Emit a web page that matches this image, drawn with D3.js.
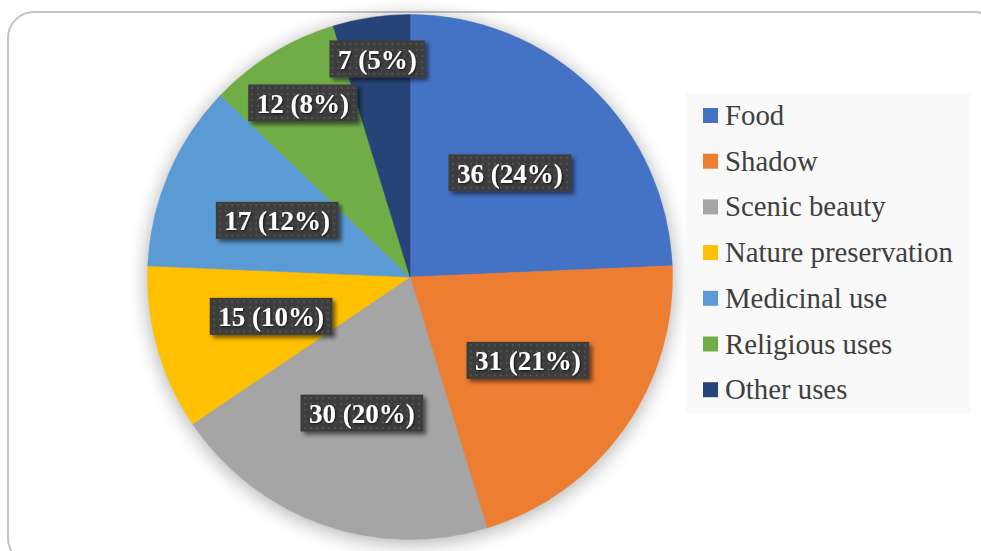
<!DOCTYPE html>
<html>
<head>
<meta charset="utf-8">
<script src="https://cdn.jsdelivr.net/npm/d3@7"></script>
<style>
html,body{margin:0;padding:0;background:#fff;}
svg{display:block;}
</style>
</head>
<body>
<svg id="chart" width="981" height="551"></svg>
<script>
const categories = ["Food","Shadow","Scenic beauty","Nature preservation","Medicinal use","Religious uses","Other uses"];
const values = [36,31,30,15,17,12,7];
const percentLabels = [24,21,20,10,12,8,5];
const colors = ["#4472C4","#ED7D31","#A5A5A5","#FFC000","#5B9BD5","#70AD47","#264478"];

const W = 981, H = 551;
const svg = d3.select("#chart");
const defs = svg.append("defs");

// filters
const glow = defs.append("filter").attr("id","glow").attr("x","-20%").attr("y","-20%").attr("width","140%").attr("height","140%");
glow.append("feGaussianBlur").attr("stdDeviation",9);

const bs = defs.append("filter").attr("id","boxShadow").attr("x","-20%").attr("y","-40%").attr("width","150%").attr("height","200%");
bs.append("feGaussianBlur").attr("in","SourceAlpha").attr("stdDeviation",2).attr("result","b");
bs.append("feOffset").attr("in","b").attr("dx",3).attr("dy",3).attr("result","o");
bs.append("feComponentTransfer").attr("in","o").attr("result","o2")
  .append("feFuncA").attr("type","linear").attr("slope",0.55);
const bm = bs.append("feMerge");
bm.append("feMergeNode").attr("in","o2");
bm.append("feMergeNode").attr("in","SourceGraphic");

const ts = defs.append("filter").attr("id","textShadow").attr("x","-10%").attr("y","-30%").attr("width","130%").attr("height","160%");
ts.append("feGaussianBlur").attr("in","SourceAlpha").attr("stdDeviation",1).attr("result","b");
ts.append("feOffset").attr("in","b").attr("dx",1).attr("dy",1).attr("result","o");
ts.append("feComponentTransfer").attr("in","o").attr("result","o2")
  .append("feFuncA").attr("type","linear").attr("slope",0.7);
const tm = ts.append("feMerge");
tm.append("feMergeNode").attr("in","o2");
tm.append("feMergeNode").attr("in","SourceGraphic");

// dotted texture
const pat = defs.append("pattern").attr("id","dots").attr("patternUnits","userSpaceOnUse")
  .attr("width",6).attr("height",6);
pat.append("rect").attr("width",6).attr("height",6).attr("fill","#3d3d3d");
pat.append("rect").attr("x",2).attr("y",2).attr("width",2).attr("height",2).attr("fill","#535353");

// outer border
svg.append("rect").attr("x",8).attr("y",12).attr("width",992).attr("height",552)
  .attr("rx",26).attr("ry",26).attr("fill","#fff").attr("stroke","#c3c3c3").attr("stroke-width",2);

// pie
const cx = 410, cy = 277, R = 262.5;
const g = svg.append("g").attr("transform",`translate(${cx},${cy})`);
g.append("circle").attr("r",R+2).attr("cy",3).attr("fill","#000").attr("opacity",0.28).attr("filter","url(#glow)");

const pie = d3.pie().sort(null).value(d => d.v).startAngle(0).endAngle(2*Math.PI);
const data = categories.map((c,i) => ({c, v: values[i], p: percentLabels[i], col: colors[i]}));
const arcs = pie(data);
const arc = d3.arc().innerRadius(0).outerRadius(R);

g.selectAll("path.slice").data(arcs).enter().append("path")
  .attr("class","slice").attr("d",arc).attr("fill",d => d.data.col)
  .attr("stroke",d => d.data.col).attr("stroke-width",0.5);

// labels
const fontLabel = "'Liberation Serif','Times New Roman',Times,serif";
const lg = g.append("g");
arcs.forEach(a => {
  const grp = lg.append("g");
  const txt = grp.append("text").text(`${a.data.v} (${a.data.p}%)`)
    .attr("font-family",fontLabel).attr("font-weight","bold").attr("font-size",27)
    .attr("fill","#fff").attr("text-anchor","middle").attr("dominant-baseline","central")
    .attr("filter","url(#textShadow)");
  const tw = txt.node().getComputedTextLength();
  const bw = tw + 17, bh = 37;
  const mid = (a.startAngle + a.endAngle)/2;
  const norm = t => { t = t % (2*Math.PI); return t < 0 ? t + 2*Math.PI : t; };
  const fw = bw - 10, fh = bh - 10;
  const fits = r => {
    const x = Math.sin(mid)*r, y = -Math.cos(mid)*r;
    const corners = [[x-fw/2,y-fh/2],[x+fw/2,y-fh/2],[x-fw/2,y+fh/2],[x+fw/2,y+fh/2]];
    return corners.every(([px,py]) => {
      if (Math.hypot(px,py) > R - 2) return false;
      let ang = norm(Math.atan2(px, -py));
      let rel = norm(ang - a.startAngle);
      return rel <= (a.endAngle - a.startAngle);
    });
  };
  let rr = 0.84*R;
  for (let r = 0.55*R; r <= 0.84*R; r += 1) { if (fits(r)) { rr = r; break; } }
  const lx = Math.sin(mid)*rr, ly = -Math.cos(mid)*rr;
  grp.attr("transform",`translate(${lx},${ly})`);
  grp.insert("rect","text").attr("x",-bw/2).attr("y",-bh/2).attr("width",bw).attr("height",bh)
    .attr("fill","url(#dots)").attr("filter","url(#boxShadow)");
  txt.attr("y",1);
});

// legend
const legX = 686, legY = 93, legW = 285, legH = 320;
const leg = svg.append("g");
leg.append("rect").attr("x",legX).attr("y",legY).attr("width",legW).attr("height",legH).attr("fill","#f9f9f9");
const rowY = d3.scalePoint().domain(categories).range([125, 125 + 45.7*6]);
const items = leg.selectAll("g.item").data(data).enter().append("g").attr("class","item")
  .attr("transform",d => `translate(0,${rowY(d.c)})`);
items.append("rect").attr("x",703).attr("y",-17).attr("width",15).attr("height",15).attr("fill",d => d.col);
items.append("text").attr("x",725).attr("y",0).text(d => d.c)
  .attr("font-family",fontLabel).attr("font-size",28.8).attr("fill","#404040");
</script>
</body>
</html>
